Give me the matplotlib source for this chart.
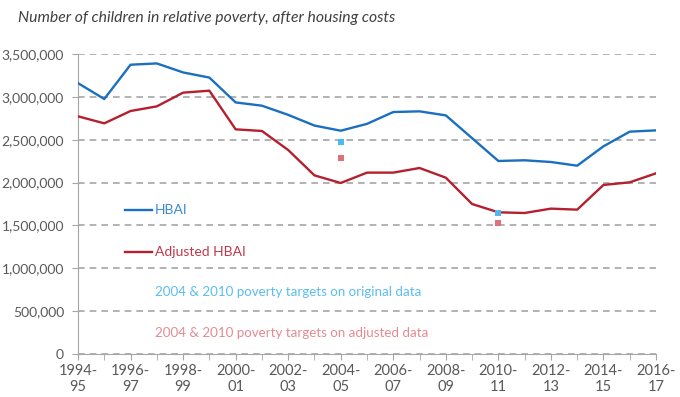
import matplotlib
matplotlib.use("Agg")
import matplotlib.pyplot as plt
from matplotlib.ticker import FuncFormatter

plt.rcParams['font.family'] = ['Lato', 'DejaVu Sans']

years = ['1994-95', '1995-96', '1996-97', '1997-98', '1998-99', '1999-00', '2000-01',
         '2001-02', '2002-03', '2003-04', '2004-05', '2005-06', '2006-07', '2007-08',
         '2008-09', '2009-10', '2010-11', '2011-12', '2012-13', '2013-14', '2014-15',
         '2015-16', '2016-17']

hbai = [3160000, 2975000, 3375000, 3390000, 3285000, 3225000, 2935000,
        2897000, 2790000, 2665000, 2605000, 2685000, 2823000, 2831000,
        2784000, 2518000, 2252000, 2260000, 2240000, 2197000, 2423000,
        2594000, 2609000]

adjusted = [2773000, 2691000, 2835000, 2889000, 3049000, 3072000, 2621000,
            2602000, 2380000, 2084000, 1995000, 2116000, 2116000, 2170000,
            2057000, 1750000, 1653000, 1645000, 1696000, 1684000, 1972000,
            2003000, 2108000]

target_years = ['2004-05', '2010-11']
target_original = [2470000, 1650000]
target_adjusted = [2290000, 1532000]

grey = '#595959'
x = list(range(len(years)))
tx = [years.index(y) for y in target_years]

fig = plt.figure(figsize=(6.8, 3.97), dpi=100)
ax = fig.add_axes([78 / 680, 1 - 354 / 397, 578 / 680, 300 / 397])

ax.plot(x, hbai, color='#1a6fc0', lw=1.7, zorder=3)
ax.plot(x, adjusted, color='#b5202e', lw=1.7, zorder=3)
ax.scatter(tx, target_original, marker='s', s=22, color='#4db8f2', zorder=4, linewidths=0)
ax.scatter(tx, target_adjusted, marker='s', s=22, color='#e0707a', zorder=4, linewidths=0)

ax.set_xlim(0, len(years) - 1)
ax.set_ylim(0, 3500000)
ax.set_yticks(range(0, 3500001, 500000))
ax.yaxis.set_major_formatter(FuncFormatter(lambda v, p: f'{int(v):,}'))
ax.yaxis.grid(True, color='#a6a6a6', linestyle=(0, (4, 3)), lw=1.2)
ax.set_axisbelow(True)

ax.set_xticks(x, minor=True)
ax.set_xticks(x[::2])
ax.set_xticklabels([y[:5] + '\n' + y[5:] for y in years[::2]])
ax.tick_params(axis='x', which='both', length=4, color='#a6a6a6', pad=3)
ax.tick_params(axis='y', length=4, color='#a6a6a6', pad=6)
ax.tick_params(labelsize=10, labelcolor=grey)
ax.tick_params(axis='x', labelsize=10.5)
for lab in ax.get_xticklabels():
    lab.set_linespacing(1.2)

for s in ['top', 'right']:
    ax.spines[s].set_visible(False)
for s in ['left', 'bottom']:
    ax.spines[s].set_color('#a6a6a6')

# legend drawn as text, as in the original
fig.add_artist(plt.Line2D([125 / 680, 152 / 680], [1 - 210 / 397] * 2, color='#1a6fc0',
                          lw=1.7, transform=fig.transFigure))
fig.add_artist(plt.Line2D([125 / 680, 152 / 680], [1 - 252 / 397] * 2, color='#b5202e',
                          lw=1.7, transform=fig.transFigure))
fig.text(155 / 680, 1 - 210 / 397, 'HBAI', color='#3b8ad4', fontsize=10, va='center')
fig.text(155 / 680, 1 - 252 / 397, 'Adjusted HBAI', color='#c0394a', fontsize=10, va='center')
fig.text(155 / 680, 1 - 292 / 397, '2004 & 2010 poverty targets on original data',
         color='#5bbdf0', fontsize=9.6, va='center')
fig.text(155 / 680, 1 - 333 / 397, '2004 & 2010 poverty targets on adjusted data',
         color='#e58a92', fontsize=9.6, va='center')

fig.text(18 / 680, 1 - 18 / 397, 'Number of children in relative poverty, after housing costs',
         fontsize=11.3, style='italic', color='#404040', va='center')

fig.savefig('out.png', dpi=100)
